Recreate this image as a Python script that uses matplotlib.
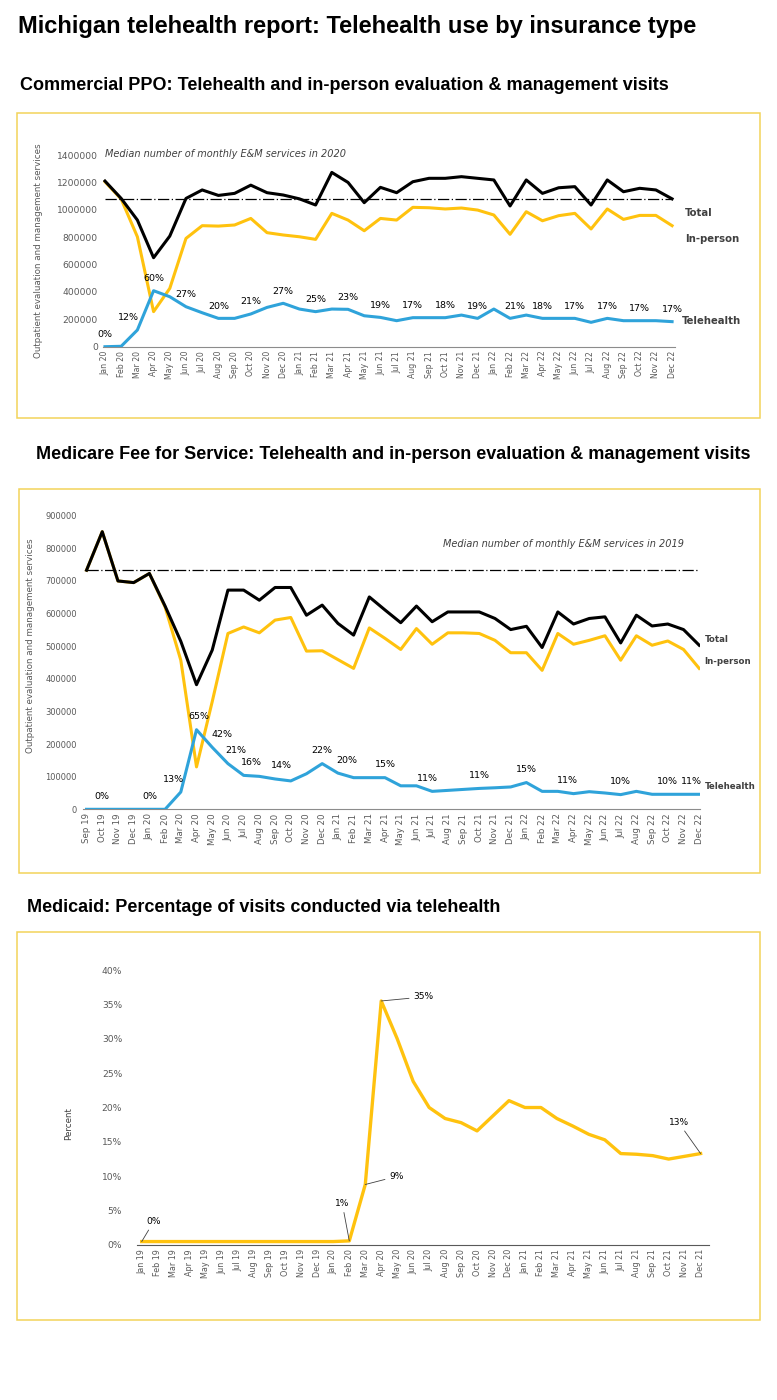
import matplotlib
matplotlib.use('Agg')
import matplotlib.pyplot as plt
from matplotlib.patches import Rectangle

W, H = 777, 1400
MONTHS = ['Jan', 'Feb', 'Mar', 'Apr', 'May', 'Jun', 'Jul', 'Aug', 'Sep', 'Oct', 'Nov', 'Dec']


def month_labels(first_month, first_year, n):
    out = []
    for k in range(n):
        m = (first_month + k) % 12
        y = first_year + (first_month + k) // 12
        out.append(f'{MONTHS[m]} {y:02d}')
    return out


# ---- Commercial PPO, Jan 20 - Dec 22
ppo_months = month_labels(0, 20, 36)
ppo_total = [1210000, 1083000, 925000, 650000, 808000, 1083000, 1145000, 1105000, 1120000, 1180000, 1125000, 1108000,
             1080000, 1035000, 1273000, 1200000, 1052000, 1164000, 1125000, 1205000, 1230000, 1230000, 1242000, 1230000,
             1218000, 1028000, 1218000, 1120000, 1161000, 1169000, 1035000, 1218000, 1132000, 1157000, 1145000, 1080000]
ppo_inperson = [1205000, 1078000, 803000, 256000, 426000, 791000, 884000, 881000, 889000, 937000, 833000, 816000,
                803000, 784000, 974000, 925000, 847000, 937000, 925000, 1018000, 1015000, 1006000, 1013000, 998000,
                962000, 821000, 986000, 920000, 957000, 974000, 860000, 1006000, 930000, 959000, 959000, 884000]
ppo_tele = [0, 3000, 122000, 409000, 365000, 292000, 248000, 207000, 207000, 239000, 287000, 317000,
            275000, 256000, 275000, 273000, 226000, 214000, 190000, 212000, 212000, 212000, 231000, 207000,
            275000, 207000, 231000, 207000, 207000, 207000, 178000, 207000, 190000, 190000, 190000, 183000]
ppo_median = 1078000
ppo_label_idx = [0, 2, 3, 5, 7, 9, 11, 13, 15, 17, 19, 21, 23, 25, 27, 29, 31, 33, 35]
ppo_label_txt = ['0%', '12%', '60%', '27%', '20%', '21%', '27%', '25%', '23%', '19%',
                 '17%', '18%', '19%', '21%', '18%', '17%', '17%', '17%', '17%']

# ---- Medicare FFS, Sep 19 - Dec 22
mcr_months = month_labels(8, 19, 40)
mcr_total = [733000, 851000, 700000, 695000,
             723000, 623000, 515000, 382000, 488000, 672000, 672000, 641000, 680000, 680000, 595000, 626000,
             570000, 534000, 651000, 611000, 572000, 623000, 575000, 605000, 605000, 605000, 585000, 551000,
             561000, 496000, 605000, 568000, 585000, 590000, 510000, 595000, 562000, 568000, 551000, 503000]
mcr_inperson = [733000, 851000, 700000, 695000,
                723000, 620000, 457000, 130000, 330000, 539000, 559000, 541000, 580000, 588000, 485000, 486000,
                459000, 432000, 556000, 524000, 490000, 554000, 506000, 541000, 541000, 539000, 518000, 480000,
                480000, 426000, 539000, 506000, 518000, 532000, 457000, 532000, 503000, 516000, 490000, 432000]
mcr_tele = [0, 0, 0, 0,
            0, 0, 53000, 244000, 190000, 140000, 104000, 101000, 93000, 87000, 109000, 140000,
            111000, 97000, 97000, 97000, 72000, 72000, 55000, 58000, 61000, 64000, 66000, 68500,
            82000, 55000, 55000, 48000, 54000, 50000, 45000, 55000, 46000, 46000, 46000, 46000]
mcr_median = 733000
mcr_label_idx = [1, 4, 6, 7, 8, 9, 10, 12, 15, 16, 19, 22, 25, 28, 31, 34, 37, 39]
mcr_label_txt = ['0%', '0%', '13%', '65%', '42%', '21%', '16%', '14%', '22%', '20%', '15%',
                 '11%', '11%', '15%', '11%', '10%', '10%', '11%']

# ---- Medicaid, Jan 19 - Dec 21 (percent)
mcd_months = month_labels(0, 19, 36)
mcd_pct = [0.5, 0.5, 0.5, 0.5, 0.5, 0.5, 0.5, 0.5, 0.5, 0.5, 0.5, 0.5,
           0.5, 0.6, 8.8, 35.5, 30.0, 23.8, 20.0, 18.4, 17.8, 16.6, 18.8, 21.0,
           20.0, 20.0, 18.4, 17.3, 16.1, 15.3, 13.3, 13.2, 13.0, 12.5, 12.9, 13.3]
mcd_label_idx = [0, 13, 14, 15, 35]
mcd_label_txt = ['0%', '1%', '9%', '35%', '13%']

# layout (pixel nudges for labels)
ppo_label_dx = {2: -9, 25: 5}
mcr_label_dx = {6: -7, 7: 2, 8: 10, 9: 8, 10: 8, 12: 6, 16: 9, 22: -5, 31: -6, 39: -8}
mcd_label_off = {0: (12, 20), 13: (-7, 37), 14: (31, 8), 15: (42, 4), 35: (-22, 31)}

BLACK = '#000000'
GOLD = '#FFC20E'
BLUE = '#2FA3DA'
GREY = '#595959'
DARK = '#404040'
BOX = '#F2D35A'
FONT = 'DejaVu Sans'

fig = plt.figure(figsize=(W / 100, H / 100), dpi=100)


def px_axes(left, right, bottom, top):
    return fig.add_axes([left / W, 1 - bottom / H, (right - left) / W, (bottom - top) / H])


def box(x0, x1, y0, y1):
    fig.patches.append(Rectangle((x0 / W, 1 - y1 / H), (x1 - x0) / W, (y1 - y0) / H,
                                 transform=fig.transFigure, fill=False, ec=BOX, lw=1.1))


def style(ax, tick_fs, ytick_fs, ypad):
    for s in ['top', 'right', 'left']:
        ax.spines[s].set_visible(False)
    ax.spines['bottom'].set_color('#8c8c8c')
    ax.spines['bottom'].set_linewidth(0.8)
    ax.tick_params(axis='both', length=0, colors=GREY)
    ax.tick_params(axis='x', labelsize=tick_fs, pad=3, labelrotation=90)
    ax.tick_params(axis='y', labelsize=ytick_fs, pad=ypad)


# titles
fig.text(18 / W, 1 - 27 / H, 'Michigan telehealth report: Telehealth use by insurance type',
         fontsize=17, fontweight='bold', family='Liberation Sans', va='center')
fig.text(20 / W, 1 - 85 / H, 'Commercial PPO: Telehealth and in-person evaluation & management visits',
         fontsize=13, fontweight='bold', family='Liberation Sans', va='center')
fig.text(36 / W, 1 - 455 / H, 'Medicare Fee for Service: Telehealth and in-person evaluation & management visits',
         fontsize=13, fontweight='bold', family='Liberation Sans', va='center')
fig.text(27 / W, 1 - 908 / H, 'Medicaid: Percentage of visits conducted via telehealth',
         fontsize=13, fontweight='bold', family='Liberation Sans', va='center')

box(17, 760, 113, 418)
box(19, 760, 489, 873)
box(17, 760, 932, 1320)

# ---------- Panel 1: Commercial PPO
ax1 = px_axes(102.7, 675, 346.7, 152.3)
x1 = list(range(len(ppo_months)))
ax1.plot(x1, ppo_inperson, color=GOLD, lw=2.2, zorder=2)
ax1.plot(x1, ppo_tele, color=BLUE, lw=2.2, zorder=3)
ax1.plot(x1, ppo_total, color=BLACK, lw=2.2, zorder=4)
ax1.plot([0, 35], [ppo_median, ppo_median], color=BLACK, lw=0.9, ls=(0, (9, 2, 1, 2)), zorder=5)
ax1.set_xlim(-0.14, 35.18)
ax1.set_ylim(0, 1420000)
ax1.set_yticks(range(0, 1400001, 200000))
ax1.ticklabel_format(axis='y', style='plain', useOffset=False)
ax1.set_xticks(x1)
ax1.set_xticklabels(ppo_months, family=FONT)
style(ax1, 5.6, 6.6, 3.4)
ax1.set_ylabel('Outpatient evaluation and management services', fontsize=6.3, color=GREY)
ax1.yaxis.set_label_coords(-0.104, 0.494)
ax1.text(0, 1405000, 'Median number of monthly E&M services in 2020', fontsize=7, style='italic',
         color=DARK, va='center', ha='left')
for i, t in zip(ppo_label_idx, ppo_label_txt):
    ax1.annotate(t, (i, ppo_tele[i]), xytext=(ppo_label_dx.get(i, 0), 12), textcoords='offset pixels',
                 ha='center', va='center', fontsize=6.8, color=BLACK)
ax1.text(35.8, 974000, 'Total', fontsize=7.3, fontweight='bold', color=DARK, va='center', clip_on=False)
ax1.text(35.8, 786000, 'In-person', fontsize=7.3, fontweight='bold', color=DARK, va='center', clip_on=False)
ax1.text(35.6, 190000, 'Telehealth', fontsize=7.3, fontweight='bold', color=DARK, va='center', clip_on=False)

# ---------- Panel 2: Medicare FFS
ax2 = px_axes(83.4, 700, 809.3, 509.2)
x2 = list(range(len(mcr_months)))
ax2.plot(x2, mcr_inperson, color=GOLD, lw=2.2, zorder=2)
ax2.plot(x2, mcr_tele, color=BLUE, lw=2.2, zorder=3)
ax2.plot(x2, mcr_total, color=BLACK, lw=2.2, zorder=4)
ax2.plot([0, 39], [mcr_median, mcr_median], color=BLACK, lw=0.9, ls=(0, (9, 2, 1, 2)), zorder=5)
ax2.set_xlim(-0.2, 39.05)
ax2.set_ylim(0, 920000)
ax2.set_yticks(range(0, 900001, 100000))
ax2.ticklabel_format(axis='y', style='plain', useOffset=False)
ax2.set_xticks(x2)
ax2.set_xticklabels(mcr_months)
style(ax2, 6.2, 6.0, 4.8)
ax2.set_ylabel('Outpatient evaluation and management services', fontsize=6.3, color=GREY)
ax2.yaxis.set_label_coords(-0.0785, 0.545)
ax2.text(38, 813000, 'Median number of monthly E&M services in 2019', fontsize=7, style='italic',
         color=DARK, va='center', ha='right')
for i, t in zip(mcr_label_idx, mcr_label_txt):
    ax2.annotate(t, (i, mcr_tele[i]), xytext=(mcr_label_dx.get(i, 0), 13), textcoords='offset pixels',
                 ha='center', va='center', fontsize=6.8, color=BLACK)
ax2.text(39.35, 520000, 'Total', fontsize=6.2, fontweight='bold', color=DARK, va='center', clip_on=False)
ax2.text(39.35, 452000, 'In-person', fontsize=6.2, fontweight='bold', color=DARK, va='center', clip_on=False)
ax2.text(39.35, 68500, 'Telehealth', fontsize=6.2, fontweight='bold', color=DARK, va='center', clip_on=False)

# ---------- Panel 3: Medicaid
ax3 = px_axes(137.4, 708.6, 1245, 966.6)
x3 = list(range(len(mcd_months)))
ax3.plot(x3, mcd_pct, color=GOLD, lw=2.4, zorder=3)
ax3.set_xlim(-0.27, 35.5)
ax3.set_ylim(0, 40.5)
ax3.set_yticks(range(0, 41, 5))
ax3.set_yticklabels([f'{v}%' for v in range(0, 41, 5)])
ax3.set_xticks(x3)
ax3.set_xticklabels(mcd_months)
style(ax3, 5.8, 6.6, 11)
ax3.spines['bottom'].set_color('#595959')
ax3.set_ylabel('Percent', fontsize=6.3, color=DARK)
ax3.yaxis.set_label_coords(-0.112, 0.435)
for i, t in zip(mcd_label_idx, mcd_label_txt):
    dx, dy = mcd_label_off[i]
    ax3.annotate(t, (i, mcd_pct[i]), xytext=(dx, dy), textcoords='offset pixels',
                 ha='center', va='center', fontsize=6.6, color=BLACK,
                 arrowprops=dict(arrowstyle='-', color=DARK, lw=0.6, shrinkA=1, shrinkB=0))

fig.savefig('out.png', dpi=100)
